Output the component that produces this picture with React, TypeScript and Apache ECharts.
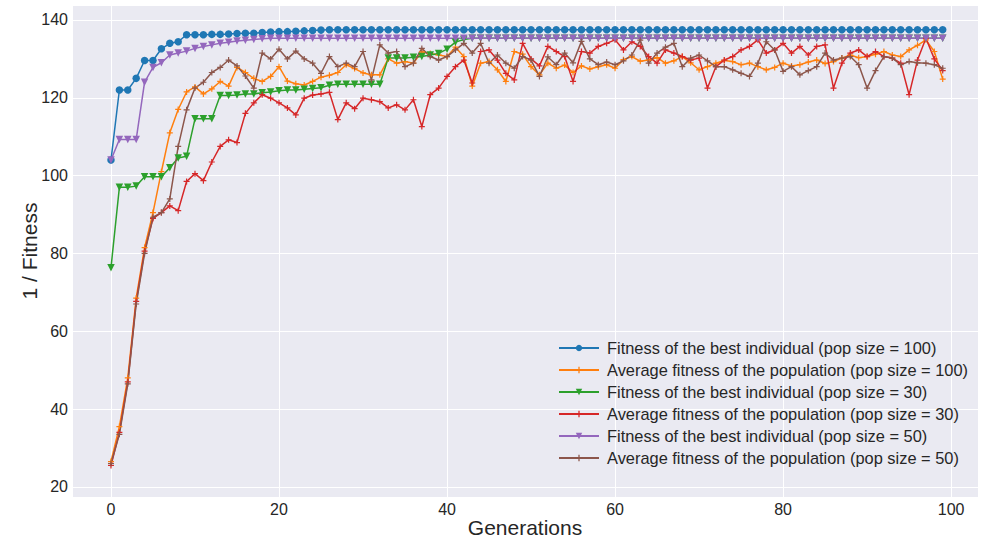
import React, { useEffect, useRef } from "react";
import * as echarts from "echarts";

// 1 / Fitness per generation (generation = index 0..99)
const bestPop100 = [
  104, 122, 122, 125, 129.6, 129.6, 132.6, 134, 134.4, 136.2,
  136.2, 136.2, 136.3, 136.3, 136.4, 136.5, 136.6, 136.6, 136.8, 136.9,
  137, 137, 137.1, 137.2, 137.3, 137.4, 137.5, 137.5, 137.5, 137.5,
  137.5, 137.5, 137.5, 137.5, 137.5, 137.5, 137.5, 137.5, 137.5, 137.5,
  137.5, 137.5, 137.5, 137.5, 137.5, 137.5, 137.5, 137.5, 137.5, 137.5,
  137.5, 137.5, 137.5, 137.5, 137.5, 137.5, 137.5, 137.5, 137.5, 137.5,
  137.5, 137.5, 137.5, 137.5, 137.5, 137.5, 137.5, 137.5, 137.5, 137.5,
  137.5, 137.5, 137.5, 137.5, 137.5, 137.5, 137.5, 137.5, 137.5, 137.5,
  137.5, 137.5, 137.5, 137.5, 137.5, 137.5, 137.5, 137.5, 137.5, 137.5,
  137.5, 137.5, 137.5, 137.5, 137.5, 137.5, 137.5, 137.5, 137.5, 137.5,
];

const avgPop100 = [
  26.5, 35.5, 48, 68.5, 81.5, 90.5, 101, 111, 117, 121.5,
  122.8, 121, 122.3, 124.2, 123, 127.8, 126.5, 125, 124.2, 125.5,
  128, 124.3, 123.6, 123.3, 124.2, 125.3, 125.8, 126.5, 128.5, 127.5,
  126.4, 125.9, 125.9, 130, 128.9, 129.3, 128.9, 131.8, 131.4, 131,
  130.6, 133, 130.6, 123, 128.9, 129.3, 127.2, 124.2, 131.9, 131.2,
  128, 125.9, 128.9, 127.6, 128.4, 126.5, 128.2, 127.4, 128, 128.5,
  127.6, 129.8, 130.6, 129.4, 129.7, 130.3, 128.9, 129.5, 130.6, 129,
  127.2, 128, 128.9, 129.6, 129.3, 128.5, 128.9, 128, 127.2, 127.8,
  128.9, 128.2, 128.5, 129.2, 129.7, 128.8, 129.3, 130.2, 131, 130.3,
  130.6, 131.2, 131.9, 131, 130.6, 132.3, 133.5, 134.9, 131.9, 124.8,
];

const bestPop30 = [
  76.3, 97, 97, 97.3, 99.7, 99.7, 99.7, 102, 104.5, 105,
  114.6, 114.6, 114.6, 120.6, 120.6, 120.7, 121, 121, 121.3, 121.5,
  121.8, 122, 122, 122.2, 122.4, 122.6, 123.2, 123.5, 123.5, 123.5,
  123.5, 123.5, 123.5, 130.2, 130.2, 130.2, 130.4, 130.6, 131, 131.4,
  132.5, 134.3, 135, 135.3, 135.3, 135.3, 135.3, 135.3, 135.3, 135.3,
  135.3, 135.3, 135.3, 135.3, 135.3, 135.3, 135.3, 135.3, 135.3, 135.3,
  135.3, 135.3, 135.3, 135.3, 135.3, 135.3, 135.3, 135.3, 135.3, 135.3,
  135.3, 135.3, 135.3, 135.3, 135.3, 135.3, 135.3, 135.3, 135.3, 135.3,
  135.3, 135.3, 135.3, 135.3, 135.3, 135.3, 135.3, 135.3, 135.3, 135.3,
  135.3, 135.3, 135.3, 135.3, 135.3, 135.3, 135.3, 135.3, 135.3, 135.3,
];

const avgPop30 = [
  25.5, 34, 47, 67.7, 80.6, 89, 90.5, 92.2, 91, 98.5,
  100.5, 98.7, 103.5, 107.5, 109.2, 108.5, 116, 118.7, 120.8, 119.9,
  118.7, 117.4, 115.6, 119.9, 120.7, 121, 121.4, 114.4, 118.7, 117.2,
  119.9, 119.5, 119, 117.4, 118.2, 116.9, 119.5, 112.6, 120.8, 122.5,
  125.5, 128, 129.7, 123.8, 131.9, 132.3, 129.7, 126.3, 124.6, 134,
  130, 128.2, 133.2, 131.9, 130.6, 124.2, 131.9, 131.5, 133.2, 134,
  134.9, 132.3, 134.4, 133.2, 130.6, 128.9, 132.3, 131.5, 130.6, 129.7,
  130.2, 122.5, 128, 129.7, 130.6, 132.3, 133.2, 134.9, 131.5, 132.3,
  134, 131.5, 133.2, 131, 133.2, 133.6, 122.5, 128.9, 131.5, 132.3,
  130.6, 131.9, 130.6, 130.2, 128.9, 120.8, 129.7, 135.3, 130, 127,
];

const bestPop50 = [
  104, 109.3, 109.3, 109.3, 124, 127.8, 129, 131, 131.5, 132,
  132.7, 133.2, 133.6, 134, 134.3, 134.6, 134.8, 135, 135.2, 135.3,
  135.3, 135.3, 135.3, 135.3, 135.3, 135.3, 135.3, 135.3, 135.3, 135.3,
  135.3, 135.3, 135.3, 135.3, 135.3, 135.3, 135.3, 135.3, 135.3, 135.3,
  135.3, 135.3, 135.3, 135.3, 135.3, 135.3, 135.3, 135.3, 135.3, 135.3,
  135.3, 135.3, 135.3, 135.3, 135.3, 135.3, 135.3, 135.3, 135.3, 135.3,
  135.3, 135.3, 135.3, 135.3, 135.3, 135.3, 135.3, 135.3, 135.3, 135.3,
  135.3, 135.3, 135.3, 135.3, 135.3, 135.3, 135.3, 135.3, 135.3, 135.3,
  135.3, 135.3, 135.3, 135.3, 135.3, 135.3, 135.3, 135.3, 135.3, 135.3,
  135.3, 135.3, 135.3, 135.3, 135.3, 135.3, 135.3, 135.3, 135.3, 135.3,
];

const avgPop50 = [
  26, 33.5, 46.5, 67, 80, 89.3, 90.5, 94, 107.5, 116.9,
  122.5, 124, 126.5, 127.8, 129.7, 128.2, 125.6, 122.5, 131.5, 130,
  132.5, 130, 132, 130, 128.9, 126.3, 130.6, 128, 128.9, 128,
  131.9, 124.6, 133.6, 131.5, 131.9, 128, 128.9, 132.7, 130.6, 129.7,
  130.6, 132.3, 134, 131.5, 134, 128.9, 131, 128.9, 127.6, 130.6,
  129.7, 125.5, 130.5, 128.5, 131.5, 129, 134.5, 130, 128.5, 129.2,
  128.5, 129.5, 131, 134.8, 128.9, 131.5, 133, 134, 128, 130.2,
  131, 129.5, 128, 128, 127.2, 126.3, 125.5, 128.9, 134.4, 132.3,
  126.8, 128, 125.9, 127, 128, 131.5, 129.7, 130.2, 130.6, 128.5,
  122.5, 127, 130.6, 130.2, 128.5, 129.3, 129, 128.9, 128.5, 127.6,
];

const legendLabels = [
  "Fitness of the best individual (pop size = 100)",
  "Average fitness of the population (pop size = 100)",
  "Fitness of the best individual (pop size = 30)",
  "Average fitness of the population (pop size = 30)",
  "Fitness of the best individual (pop size = 50)",
  "Average fitness of the population (pop size = 50)",
];

const colors = ["#1f77b4", "#ff7f0e", "#2ca02c", "#d62728", "#9467bd", "#8c564b"];

const PLUS = "path://M4,0H6V4H10V6H6V10H4V6H0V4H4Z";

const FONT = "'Liberation Sans', Arial, sans-serif";
const TEXT = "#262626";

export default function App() {
  const ref = useRef<HTMLDivElement>(null);

  useEffect(() => {
    if (!ref.current) return;
    const chart = echarts.init(ref.current, null, { renderer: "svg" });

    const seriesValues = [bestPop100, avgPop100, bestPop30, avgPop30, bestPop50, avgPop50];
    const symbols = ["circle", PLUS, "triangle", PLUS, "triangle", PLUS];
    const rotates = [0, 0, 180, 0, 180, 0];
    const sizes = [7.5, 6, 7.5, 6, 7.5, 6];

    const series = seriesValues.map((vals, k) => ({
      name: legendLabels[k],
      type: "line",
      data: vals.map((v, i) => [i, v]),
      symbol: symbols[k],
      symbolRotate: rotates[k],
      symbolSize: sizes[k],
      showSymbol: true,
      showAllSymbol: true,
      lineStyle: { color: colors[k], width: 1.5 },
      itemStyle: { color: colors[k] },
      emphasis: { disabled: true },
    }));

    chart.setOption({
      animation: false,
      color: colors,
      textStyle: { fontFamily: FONT },
      grid: {
        left: 72,
        right: 5,
        top: 5,
        bottom: 46,
        show: true,
        backgroundColor: "#EAEAF2",
        borderWidth: 0,
      },
      legend: {
        orient: "vertical",
        left: 558,
        top: 340,
        padding: 0,
        itemWidth: 40,
        itemHeight: 8,
        itemGap: 6,
        textStyle: { fontSize: 16.4, color: TEXT, fontFamily: FONT, padding: [0, 0, 0, 3] },
        data: legendLabels,
      },
      xAxis: {
        type: "value",
        min: -4.64,
        max: 103.2,
        minInterval: 20,
        maxInterval: 20,
        name: "Generations",
        nameLocation: "middle",
        nameGap: 20,
        nameMoveOverlap: false,
        nameTextStyle: { fontSize: 21, color: TEXT, fontFamily: FONT },
        axisLine: { show: false },
        axisTick: { show: false },
        axisLabel: {
          fontSize: 16,
          color: TEXT,
          margin: 4,
          showMinLabel: false,
          showMaxLabel: false,
          fontFamily: FONT,
        },
        splitLine: { show: true, lineStyle: { color: "#ffffff", width: 1 } },
      },
      yAxis: {
        type: "value",
        min: 17.4,
        max: 143.85,
        minInterval: 20,
        maxInterval: 20,
        name: "1 / Fitness",
        nameLocation: "middle",
        nameGap: 32,
        nameMoveOverlap: false,
        nameTextStyle: { fontSize: 21, color: TEXT, fontFamily: FONT },
        axisLine: { show: false },
        axisTick: { show: false },
        axisLabel: {
          fontSize: 16,
          color: TEXT,
          margin: 4,
          showMinLabel: false,
          showMaxLabel: false,
          fontFamily: FONT,
        },
        splitLine: { show: true, lineStyle: { color: "#ffffff", width: 1 } },
      },
      series,
    });

    return () => chart.dispose();
  }, []);

  return (
    <div
      ref={ref}
      style={{ position: "absolute", left: 0, top: 0, width: 983, height: 543, background: "#ffffff" }}
    />
  );
}
